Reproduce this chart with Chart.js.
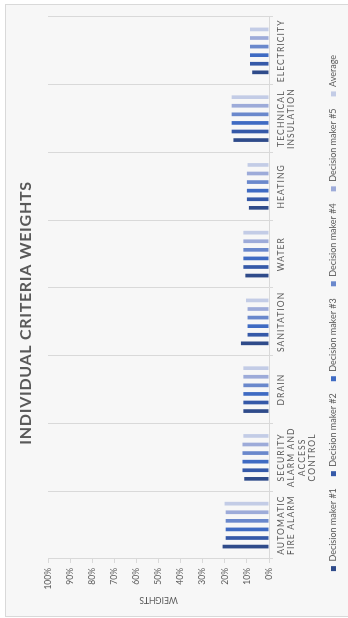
<!DOCTYPE html>
<html>
<head>
<meta charset="utf-8">
<script src="https://cdn.jsdelivr.net/npm/chart.js@4.4.1/dist/chart.umd.min.js"></script>
<style>
  html, body { margin: 0; padding: 0; background: #ffffff; width: 348px; height: 618px; overflow: hidden; }
  /* the chart is laid out landscape and turned a quarter turn counter-clockwise */
  #page { position: absolute; left: 0; top: 0; width: 618px; height: 348px;
          transform-origin: 0 0; transform: translate(0, 618px) rotate(-90deg); }
  #frame { position: absolute; left: 1px; top: 5px; width: 613px; height: 350px;
           border: 1px solid #d9d9d9; background: #f7f7f7; box-sizing: border-box; }
  #c { position: absolute; left: 0; top: 0; }
</style>
</head>
<body>
<div id="page">
  <div id="frame"></div>
  <canvas id="c" width="618" height="348"></canvas>
</div>
<script>
// Criteria (x axis)
const categories = [
  ["AUTOMATIC", "FIRE ALARM"],
  ["SECURITY", "ALARM AND", "ACCESS", "CONTROL"],
  "DRAIN",
  "SANITATION",
  "WATER",
  "HEATING",
  ["TECHNICAL", "INSULATION"],
  "ELECTRICITY"
];

// Weights per decision maker, in percent
const decisionMaker1 = [21.0, 11.2, 11.6, 12.7, 10.7, 9.1, 16.1, 7.6];
const decisionMaker2 = [19.6, 12.0, 11.6, 9.7, 11.6, 10.0, 16.9, 8.6];
const decisionMaker3 = [19.6, 12.0, 11.6, 9.7, 11.6, 10.0, 16.9, 8.6];
const decisionMaker4 = [19.6, 12.0, 11.6, 9.7, 11.6, 10.0, 16.9, 8.6];
const decisionMaker5 = [19.6, 12.0, 11.6, 9.7, 11.6, 10.0, 16.9, 8.6];
const average        = [20.1, 11.6, 11.6, 10.4, 11.6, 9.7, 16.9, 8.6];

const seriesNames = ["Decision maker #1", "Decision maker #2", "Decision maker #3",
                     "Decision maker #4", "Decision maker #5", "Average"];
const seriesColors = ["#2f4b8a", "#3559a8", "#3f6bc3", "#6a88cc", "#9dabd9", "#c3cce6"];

// Value axis tick labels
const weightTicks = ["0%", "10%", "20%", "30%", "40%", "50%", "60%", "70%", "80%", "90%", "100%"];

const seriesValues = [decisionMaker1, decisionMaker2, decisionMaker3, decisionMaker4, decisionMaker5, average];

const TEXT = "#595959";
const LINE = "#d9d9d9";

// Canvas text has no letter-spacing option in Chart.js, so the title and
// category labels are drawn with the context's letterSpacing set.
const spacedText = {
  id: "spacedText",
  beforeDraw(chart) {
    if (chart.$spaced) return;
    chart.$spaced = true;
    const wrap = (obj, name, spacing) => {
      const orig = obj[name];
      obj[name] = function (...args) {
        const ctx = chart.ctx;
        ctx.save();
        ctx.letterSpacing = spacing;
        const r = orig.apply(this, args);
        ctx.restore();
        return r;
      };
    };
    wrap(chart.titleBlock, "draw", "0.7px");
    wrap(chart.scales.x, "drawLabels", "1.1px");
  }
};

Chart.defaults.font.family = "Lato, 'Open Sans', sans-serif";
Chart.defaults.color = TEXT;

new Chart(document.getElementById("c"), {
  type: "bar",
  data: {
    labels: categories,
    datasets: seriesValues.map((vals, i) => ({
      label: seriesNames[i],
      data: vals,
      backgroundColor: seriesColors[i],
      borderWidth: 0,
      categoryPercentage: 0.76,
      barPercentage: 0.43
    }))
  },
  options: {
    responsive: false,
    animation: false,
    devicePixelRatio: 1,
    layout: { padding: { left: 9, right: 17, top: 0, bottom: 0 } },
    plugins: {
      title: {
        display: true,
        text: "INDIVIDUAL CRITERIA WEIGHTS",
        color: TEXT,
        font: { size: 16, weight: "bold" },
        padding: { top: 16, bottom: 12.8 }
      },
      legend: {
        position: "bottom",
        labels: {
          boxWidth: 5,
          boxHeight: 5,
          padding: 12,
          color: TEXT,
          font: { size: 9 }
        }
      },
      tooltip: { enabled: false }
    },
    scales: {
      x: {
        grid: { offset: true, color: LINE, drawTicks: true, tickLength: 4 },
        border: { color: LINE },
        ticks: {
          autoSkip: false,
          maxRotation: 0,
          minRotation: 0,
          padding: 3,
          color: TEXT,
          font: { size: 8.5, lineHeight: 1.22 }
        },
        afterFit(scale) { scale.height = 48; }
      },
      y: {
        min: 0,
        max: 100,
        grid: { drawOnChartArea: false, drawTicks: true, tickLength: 4, color: LINE },
        border: { color: LINE },
        ticks: {
          stepSize: 10,
          padding: 5,
          color: TEXT,
          font: { size: 8.5 },
          callback: (v, i) => weightTicks[i]
        },
        title: {
          display: true,
          text: "WEIGHTS",
          color: TEXT,
          font: { size: 8.5 },
          padding: { top: 4, bottom: 0 }
        },
        afterFit(scale) { scale.width = 50; }
      }
    }
  },
  plugins: [spacedText]
});
</script>
</body>
</html>
